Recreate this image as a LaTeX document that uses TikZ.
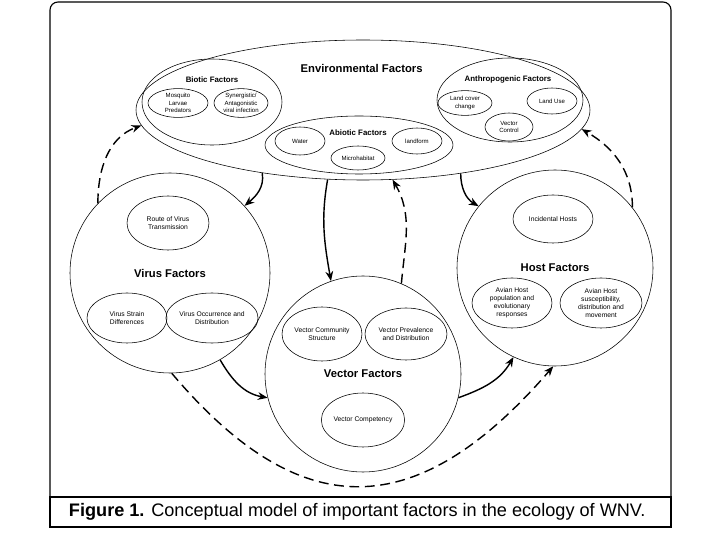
\documentclass[tikz,border=0pt]{standalone}
\usepackage{fontspec}
\setmainfont{Liberation Sans}
\usetikzlibrary{shapes.geometric,arrows.meta}

\begin{document}
\begin{tikzpicture}[>={Stealth[length=7pt,width=5.5pt]},group/.style={draw,ellipse,inner sep=0pt,line width=0.4pt},item/.style={draw,ellipse,inner sep=0pt,line width=0.4pt,align=center,font=\fontsize{4.8}{5.8}\selectfont},envitem/.style={item,font=\fontsize{4.3}{5.1}\selectfont},sphere/.style={draw,circle,inner sep=0pt,line width=0.4pt,minimum size=4.9cm},bigtitle/.style={font=\fontsize{8}{9}\selectfont\bfseries},smalltitle/.style={font=\fontsize{5.6}{6.5}\selectfont\bfseries},link/.style={->,line width=1pt},feedback/.style={->,line width=1pt,dash pattern=on 7pt off 4pt}]
  \useasboundingbox (0,0) rectangle (18,13.5);
  \draw[line width=0.8pt,rounded corners=0.2cm] (1.25,1.075) -- (1.25,13.45) -- (16.775,13.45) -- (16.775,1.075);
  \draw[line width=0.8pt] (1.25,1.075) rectangle (16.775,0.325);
  \draw[line width=1.2pt] (1.25,1.075) -- (16.775,1.075);
  \node[anchor=west,font=\fontsize{12.9}{14}\selectfont] (caption) at (1.6,0.7) {\textbf{Figure 1.} Conceptual model of important factors in the ecology of WNV.};
  \node[group,minimum width=11.35cm,minimum height=3.5cm] (env) at (9.075,10.75) {};
  \node[bigtitle] (envlabel) at (9.04,11.78) {Environmental Factors};
  \node[group,minimum width=3.5cm,minimum height=2.15cm] (biotic) at (5.3,10.95) {};
  \node[smalltitle] (bioticlabel) at (5.3,11.5) {Biotic Factors};
  \node[envitem,minimum width=1.5cm,minimum height=0.72cm] (larvae) at (4.45,10.925) {Mosquito\\Larvae\\Predators};
  \node[envitem,minimum width=1.35cm,minimum height=0.72cm] (synergy) at (6.025,10.925) {Synergistic/\\Antagonistic\\viral infection};
  \node[group,minimum width=3.65cm,minimum height=2.1cm] (anthro) at (12.75,11.0) {};
  \node[smalltitle] (anthrolabel) at (12.7,11.525) {Anthropogenic Factors};
  \node[envitem,minimum width=1.35cm,minimum height=0.62cm] (landcover) at (11.625,10.925) {Land cover\\change};
  \node[envitem,minimum width=1.25cm,minimum height=0.65cm] (landuse) at (13.8,10.975) {Land Use};
  \node[envitem,minimum width=1.2cm,minimum height=0.7cm] (vcontrol) at (12.725,10.325) {Vector\\Control};
  \node[group,minimum width=4.7cm,minimum height=1.45cm] (abiotic) at (8.975,9.875) {};
  \node[smalltitle] (abioticlabel) at (8.95,10.175) {Abiotic Factors};
  \node[envitem,minimum width=1.25cm,minimum height=0.7cm] (water) at (7.5,9.975) {Water};
  \node[envitem,minimum width=1.25cm,minimum height=0.65cm] (landform) at (10.425,9.975) {landform};
  \node[envitem,minimum width=1.35cm,minimum height=0.6cm] (microhab) at (8.95,9.55) {Microhabitat};
  \node[sphere,minimum size=5cm] (virus) at (4.25,6.675) {};
  \node[bigtitle] (viruslabel) at (virus.center) {Virus Factors};
  \node[item,minimum width=2.05cm,minimum height=1.35cm] (route) at (4.2,7.925) {Route of Virus\\Transmission};
  \node[item,minimum width=2cm,minimum height=1.25cm] (strain) at (3.175,5.55) {Virus Strain\\Differences};
  \node[item,minimum width=2.05cm,minimum height=1.25cm] (occur) at (5.3,5.55) {Virus Occurrence and\\Distribution};
  \node[sphere] (host) at (13.875,6.8) {};
  \node[bigtitle] (hostlabel) at (host.center) {Host Factors};
  \node[item,minimum width=2cm,minimum height=1.2cm] (incid) at (13.825,8.025) {Incidental Hosts};
  \node[item,minimum width=2cm,minimum height=1.25cm] (avianpop) at (12.8,5.925) {Avian Host\\population and\\evolutionary\\responses};
  \node[item,minimum width=2.05cm,minimum height=1.25cm] (aviansusc) at (15.025,5.925) {Avian Host\\susceptibility,\\distribution and\\movement};
  \node[sphere] (vector) at (9.075,4.15) {};
  \node[bigtitle] (vectorlabel) at (vector.center) {Vector Factors};
  \node[item,minimum width=2cm,minimum height=1.35cm] (community) at (8.05,5.15) {Vector Community\\Structure};
  \node[item,minimum width=2.05cm,minimum height=1.3cm] (prevalence) at (10.15,5.15) {Vector Prevalence\\and Distribution};
  \node[item,minimum width=2cm,minimum height=1.35cm] (competency) at (9.075,3.0) {Vector Competency};
  \draw[link] (env.212) to[out=-80,in=40] (virus.42);
  \draw[link] (env.243) to[out=-100,in=100] (vector.109);
  \draw[feedback] (vector.67) to[out=85,in=-60] (env.293);
  \draw[link] (env.327) to[out=-90,in=150] (host.141);
  \draw[feedback] (host.38) to[out=90,in=-30] (env.355);
  \draw[feedback] (virus.136) to[out=90,in=200] (env.184);
  \draw[link] (virus.-60) to[out=-60,in=170] (vector.194);
  \draw[link] (vector.346) to[out=20,in=-120] (host.245);
  \draw[feedback] (virus.271) .. controls (7.5,0.375) and (10.4,0.375) .. (host.269);
\end{tikzpicture}
\end{document}
